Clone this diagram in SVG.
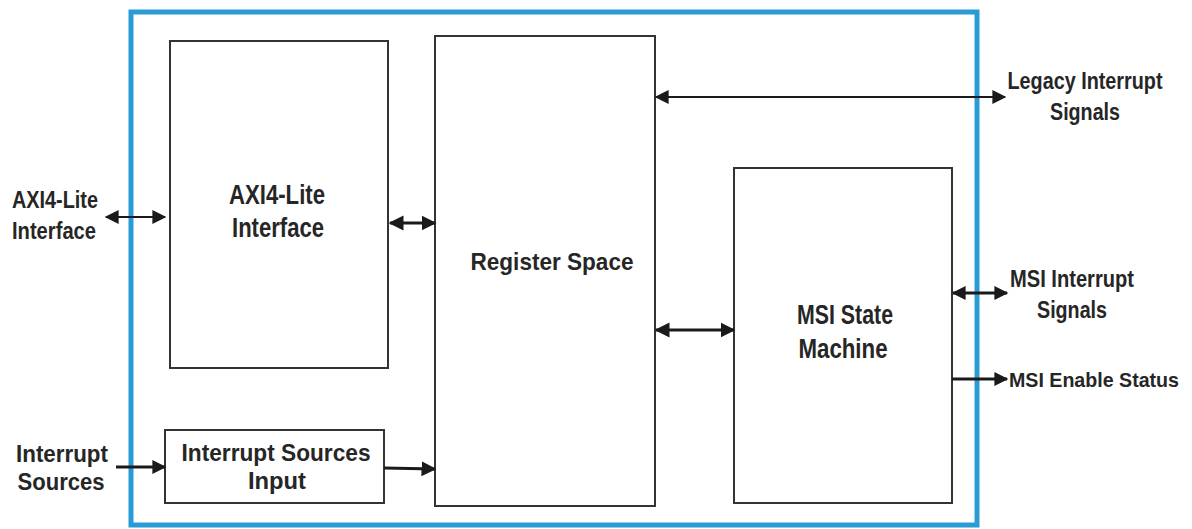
<svg xmlns="http://www.w3.org/2000/svg" width="1192" height="529" viewBox="0 0 1192 529">
<style>
.box{fill:#fff;stroke:#333;stroke-width:2}
.t{font-family:"Liberation Sans",Arial,sans-serif;font-weight:bold;fill:#262626;text-anchor:middle}
.s20{font-size:23px}
.s22{font-size:24px}
.s24{font-size:27px}
.c{stroke:#1a1a1a;stroke-width:3;fill:none}
.c2{stroke:#1a1a1a;stroke-width:2;fill:none}
</style>
<defs>
<marker id="ah" viewBox="0 0 10 10" refX="9" refY="5" markerWidth="15" markerHeight="14" orient="auto-start-reverse" markerUnits="userSpaceOnUse">
<path d="M0,0 L10,5 L0,10 Z" fill="#1a1a1a"/>
</marker>
<marker id="ahb" viewBox="0 0 10 10" refX="9" refY="5" markerWidth="15" markerHeight="16" orient="auto-start-reverse" markerUnits="userSpaceOnUse">
<path d="M0,0 L10,5 L0,10 Z" fill="#1a1a1a"/>
</marker>
</defs>
<rect x="0" y="0" width="1192" height="529" fill="#fff"/>
<g id="outer"><rect x="131" y="12" width="846" height="513" fill="none" stroke="#2b9bd6" stroke-width="5"/></g>
<g id="axi"><rect class="box" x="170" y="41" width="218" height="327"/>
<text class="t s24" x="277" y="204" textLength="96" lengthAdjust="spacingAndGlyphs">AXI4-Lite</text><text class="t s24" x="278" y="237" textLength="92" lengthAdjust="spacingAndGlyphs">Interface</text></g>
<g id="reg"><rect class="box" x="435" y="36" width="220" height="470"/>
<text class="t s22" x="552" y="270" textLength="163" lengthAdjust="spacingAndGlyphs">Register Space</text></g>
<g id="msi"><rect class="box" x="734" y="168" width="218" height="335"/>
<text class="t s24" x="845" y="324" textLength="96" lengthAdjust="spacingAndGlyphs">MSI State</text><text class="t s24" x="843" y="358" textLength="89" lengthAdjust="spacingAndGlyphs">Machine</text></g>
<g id="isi"><rect class="box" x="165" y="430" width="219" height="73"/>
<text class="t s20" x="276" y="461" textLength="189" lengthAdjust="spacingAndGlyphs">Interrupt Sources</text><text class="t s20" x="277" y="489" textLength="58" lengthAdjust="spacingAndGlyphs">Input</text></g>
<g id="labels">
<text class="t s20" x="55" y="208" textLength="86" lengthAdjust="spacingAndGlyphs">AXI4-Lite</text><text class="t s20" x="54" y="239" textLength="84" lengthAdjust="spacingAndGlyphs">Interface</text>
<text class="t s20" x="1085" y="89" textLength="155" lengthAdjust="spacingAndGlyphs">Legacy Interrupt</text><text class="t s20" x="1085" y="120" textLength="70" lengthAdjust="spacingAndGlyphs">Signals</text>
<text class="t s20" x="1072" y="287" textLength="124" lengthAdjust="spacingAndGlyphs">MSI Interrupt</text><text class="t s20" x="1072" y="318" textLength="70" lengthAdjust="spacingAndGlyphs">Signals</text>
<text class="t" style="font-size:21px" x="1094" y="387" textLength="170" lengthAdjust="spacingAndGlyphs">MSI Enable Status</text>
<text class="t s20" x="62" y="462" textLength="92" lengthAdjust="spacingAndGlyphs">Interrupt</text><text class="t s20" x="61" y="490" textLength="87" lengthAdjust="spacingAndGlyphs">Sources</text>
</g>
<g id="connectors">
<line class="c2" x1="106" y1="217" x2="165" y2="217" marker-start="url(#ah)" marker-end="url(#ah)"/>
<line class="c" x1="390" y1="223" x2="435" y2="223" marker-start="url(#ahb)" marker-end="url(#ahb)"/>
<line class="c2" x1="656" y1="97" x2="1005" y2="97" marker-start="url(#ah)" marker-end="url(#ah)"/>
<line class="c" x1="656" y1="330" x2="734" y2="330" marker-start="url(#ahb)" marker-end="url(#ahb)"/>
<line class="c" x1="953" y1="293" x2="1007" y2="293" marker-start="url(#ah)" marker-end="url(#ah)"/>
<line class="c" x1="952" y1="379" x2="1007" y2="379" marker-end="url(#ah)"/>
<line class="c" x1="116" y1="467" x2="165" y2="467" marker-end="url(#ah)"/>
<line class="c" x1="384" y1="468" x2="435" y2="469" marker-end="url(#ahb)"/>
</g>
</svg>
